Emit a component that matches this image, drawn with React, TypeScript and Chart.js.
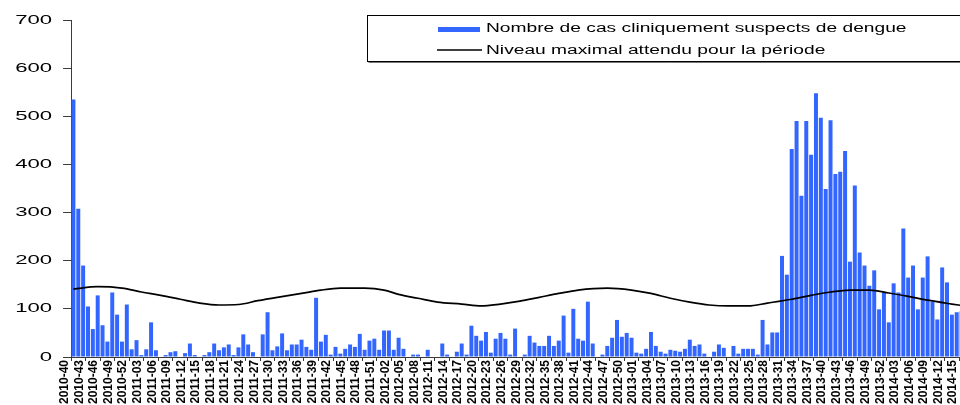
import React, { useEffect, useRef } from "react";
import { Chart, registerables } from "chart.js";

Chart.register(...registerables);

// ---- categories -------------------------------------------------------
const FIRST_YEAR = 2010;
const FIRST_WEEK = 40;
const WEEKS_PER_YEAR = 52;
const LABEL_EVERY = 3;

// ---- series: weekly clinically suspected dengue cases ------------------
const suspectedCases = [
  535, 308, 190, 105, 58, 128, 66, 32, 134, 88,
  32, 109, 16, 35, 4, 16, 72, 14, 0, 4,
  10, 12, 0, 8, 28, 4, 0, 4, 10, 28,
  14, 20, 26, 4, 20, 47, 26, 10, 0, 47,
  93, 14, 22, 49, 14, 26, 26, 36, 21, 15,
  123, 32, 46, 5, 21, 7, 17, 26, 21, 48,
  15, 34, 38, 15, 55, 55, 15, 40, 17, 0,
  5, 5, 0, 15, 0, 0, 28, 5, 0, 11,
  28, 5, 65, 44, 34, 52, 9, 38, 50, 38,
  5, 59, 0, 5, 44, 30, 23, 23, 44, 23,
  34, 86, 9, 100, 38, 34, 115, 28, 0, 5,
  23, 40, 77, 42, 50, 40, 9, 7, 17, 52,
  23, 11, 7, 15, 13, 11, 17, 36, 23, 26,
  7, 0, 11, 26, 19, 0, 23, 7, 17, 17,
  17, 5, 77, 26, 51, 51, 210, 171, 432, 490,
  335, 490, 420, 548, 497, 349, 492, 380, 385, 428,
  198, 356, 217, 190, 148, 180, 99, 134, 72, 153,
  134, 267, 165, 190, 99, 165, 209, 115, 78, 186,
  155, 88, 93, 95,
];

// ---- series: expected maximum level (read at sample weeks) -------------
const expectedLevelWeeks = [
  "2010-40", "2010-45", "2010-50", "2011-02", "2011-06", "2011-10", "2011-14",
  "2011-18", "2011-22", "2011-26", "2011-30", "2011-35", "2011-39", "2011-43",
  "2011-48", "2011-52", "2012-03", "2012-07", "2012-11", "2012-16", "2012-20",
  "2012-24", "2012-28", "2012-32", "2012-36", "2012-40", "2012-46", "2012-51",
  "2013-03", "2013-07", "2013-11", "2013-15", "2013-19", "2013-23", "2013-27",
  "2013-32", "2013-36", "2013-40", "2013-44", "2013-48", "2013-52", "2014-04",
  "2014-08", "2014-13", "2014-15",
];
const expectedLevelValues = [
  141, 146, 143, 135, 128, 120, 112,
  108, 109, 117, 124, 132, 139, 143,
  143, 139, 130, 122, 114, 110, 106,
  110, 116, 124, 132, 139, 143, 139,
  132, 122, 114, 108, 106, 106, 112,
  120, 128, 135, 139, 139, 133, 126,
  118, 110, 107,
];

// ---- axis / legend texts ----------------------------------------------
const yTickValues = [0, 100, 200, 300, 400, 500, 600, 700];
const legendBarsText = "Nombre de cas cliniquement suspects de dengue";
const legendLineText = "Niveau maximal attendu pour la période";

function buildWeekLabels(count: number): string[] {
  const out: string[] = [];
  let year = FIRST_YEAR;
  let week = FIRST_WEEK;
  for (let i = 0; i < count; i++) {
    out.push(`${year}-${String(week).padStart(2, "0")}`);
    week++;
    if (week > WEEKS_PER_YEAR) {
      week = 1;
      year++;
    }
  }
  return out;
}

const weekLabels = buildWeekLabels(suspectedCases.length);

const FONT = '"Liberation Sans", Arial, sans-serif';
const BAR_COLOR = "#3366FF";
const AXIS_COLOR = "#3a3a3a";

const textPlugin = {
  id: "excelText",
  afterDraw(chart: any) {
    const { ctx, chartArea } = chart;
    const xs = chart.scales.x;
    const ys = chart.scales.y;
    ctx.save();
    ctx.fillStyle = "#000";

    // y tick labels (horizontally stretched like the original)
    ctx.font = `13px ${FONT}`;
    ctx.textAlign = "right";
    ctx.textBaseline = "middle";
    for (const v of yTickValues) {
      const py = ys.getPixelForValue(v);
      ctx.save();
      ctx.translate(52, py);
      ctx.scale(1.7, 1);
      ctx.fillText(String(v), 0, 0);
      ctx.restore();
    }

    // x tick labels, rotated
    ctx.font = `bold 12px ${FONT}`;
    weekLabels.forEach((lab, i) => {
      if (i % LABEL_EVERY !== 0) return;
      const px = xs.getPixelForValue(i) - 8.5;
      ctx.save();
      ctx.translate(px, chartArea.bottom + 3);
      ctx.rotate(-Math.PI / 2);
      ctx.textAlign = "right";
      ctx.textBaseline = "middle";
      ctx.fillText(lab, 0, 0);
      ctx.restore();
    });

    // legend box
    const lx = 367.5;
    const ly = 15.5;
    const lw = 700;
    const lh = 46;
    ctx.fillStyle = "#fff";
    ctx.fillRect(lx, ly, lw, lh);
    ctx.strokeStyle = "#000";
    ctx.lineWidth = 1;
    ctx.strokeRect(lx, ly, lw, lh);
    ctx.strokeStyle = "#777";
    ctx.beginPath();
    ctx.moveTo(lx + 1, ly + lh + 1);
    ctx.lineTo(lx + lw, ly + lh + 1);
    ctx.stroke();

    ctx.fillStyle = BAR_COLOR;
    ctx.fillRect(438, 27, 42, 5);
    ctx.strokeStyle = "#000";
    ctx.lineWidth = 1.5;
    ctx.beginPath();
    ctx.moveTo(437, 50);
    ctx.lineTo(482, 50);
    ctx.stroke();

    ctx.fillStyle = "#000";
    ctx.font = `12px ${FONT}`;
    ctx.textAlign = "left";
    ctx.textBaseline = "alphabetic";
    ctx.save();
    ctx.translate(486, 32);
    ctx.scale(1.6, 1);
    ctx.fillText(legendBarsText, 0, 0);
    ctx.restore();
    ctx.save();
    ctx.translate(486, 54);
    ctx.scale(1.6, 1);
    ctx.fillText(legendLineText, 0, 0);
    ctx.restore();

    ctx.restore();
  },
};

export default function App() {
  const canvasRef = useRef<HTMLCanvasElement>(null);

  useEffect(() => {
    const canvas = canvasRef.current;
    if (!canvas) return;
    const chart = new Chart(canvas, {
      type: "bar",
      data: {
        labels: weekLabels,
        datasets: [
          {
            type: "line",
            label: legendLineText,
            data: expectedLevelWeeks.map((w, i) => ({ x: w, y: expectedLevelValues[i] })) as any,
            borderColor: "#000",
            borderWidth: 1.7,
            pointRadius: 0,
            cubicInterpolationMode: "monotone",
            fill: false,
            order: 0,
          } as any,
          {
            type: "bar",
            label: legendBarsText,
            data: suspectedCases,
            backgroundColor: BAR_COLOR,
            borderWidth: 0,
            barPercentage: 0.82,
            categoryPercentage: 1.0,
            order: 1,
          },
        ],
      },
      options: {
        responsive: false,
        animation: false,
        events: [],
        layout: { padding: { left: 0, right: 8, top: 20, bottom: 0 } },
        plugins: {
          legend: { display: false },
          tooltip: { enabled: false },
        },
        scales: {
          x: {
            type: "category",
            offset: true,
            ticks: { display: false, autoSkip: false },
            grid: {
              offset: true,
              drawOnChartArea: false,
              drawTicks: true,
              tickLength: 4,
              tickColor: (c: any) =>
                c.index % LABEL_EVERY === 0 ? AXIS_COLOR : "rgba(0,0,0,0)",
            },
            border: { color: AXIS_COLOR, width: 1 },
            afterFit: (s: any) => {
              s.height = 48;
            },
          },
          y: {
            min: 0,
            max: 700,
            ticks: { display: false, stepSize: 100 },
            grid: {
              drawOnChartArea: false,
              drawTicks: true,
              tickLength: 8,
              color: AXIS_COLOR,
            },
            border: { color: AXIS_COLOR, width: 1 },
            afterFit: (s: any) => {
              s.width = 71;
            },
          },
        },
      },
      plugins: [textPlugin],
    });
    return () => chart.destroy();
  }, []);

  return (
    <div
      style={{
        position: "fixed",
        left: 0,
        top: 0,
        width: 960,
        height: 405,
        overflow: "hidden",
        background: "#fff",
      }}
    >
      <canvas ref={canvasRef} width={972} height={405} style={{ display: "block" }} />
    </div>
  );
}
